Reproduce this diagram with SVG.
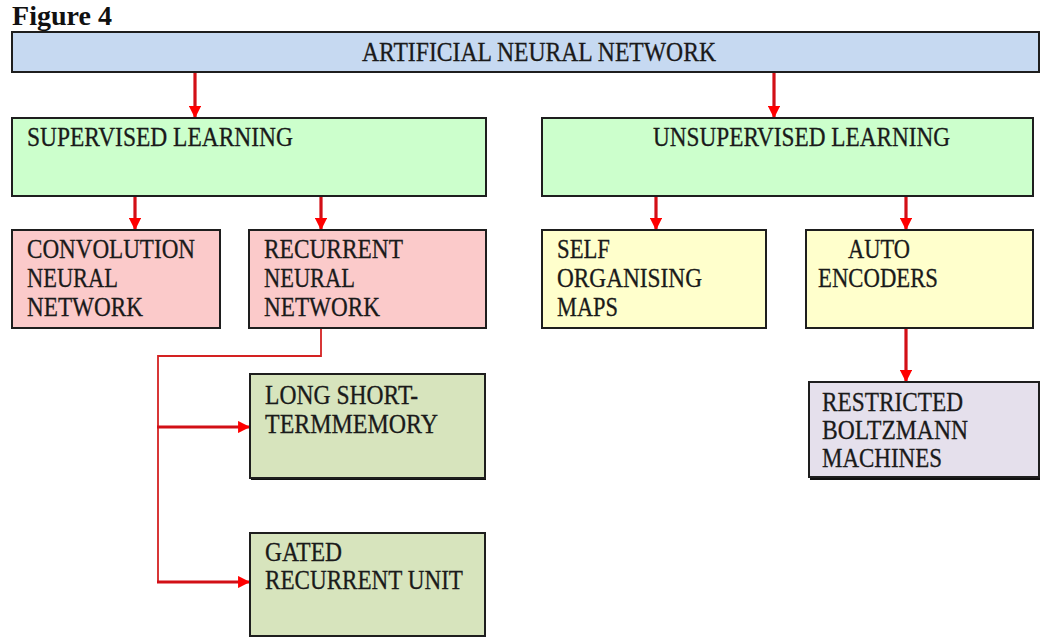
<svg xmlns="http://www.w3.org/2000/svg" width="1049" height="643" viewBox="0 0 1049 643">
  <style>
    .box { stroke: #1e1e1e; stroke-width: 2; }
    .ann { fill: #c6d9f1; }
    .learn { fill: #ccffcc; }
    .sup { fill: #fbcaca; }
    .uns { fill: #ffffcc; }
    .rnn { fill: #d7e4bd; }
    .rbm { fill: #e5e0ec; }
    .lbl { font-family: "Liberation Serif", "Times New Roman", serif; font-size: 27px; fill: #1a1a1a; stroke: #1a1a1a; stroke-width: 0.3; }
    .title { font-family: "Liberation Serif", "Times New Roman", serif; font-size: 27px; font-weight: bold; fill: #111; }
    .shaft { stroke: #d20f16; stroke-width: 3.2; fill: none; }
    .thin { stroke: #d42222; stroke-width: 1.8; fill: none; }
    .shadow { fill: #111; }
  </style>
  <defs>
    <marker id="head" viewBox="0 0 10 10" refX="9" refY="5" markerWidth="3.8" markerHeight="3.8" markerUnits="strokeWidth" orient="auto">
      <path d="M0,0 L10,5 L0,10 Z" fill="#ff0000"/>
    </marker>
  </defs>

  <rect width="1049" height="643" fill="#ffffff"/>

  <text class="title" x="12" y="25" textLength="100" lengthAdjust="spacingAndGlyphs">Figure 4</text>

  <!-- connectors -->
  <g id="connectors">
    <line class="shaft" x1="195" y1="72" x2="195" y2="117" marker-end="url(#head)"/>
    <line class="shaft" x1="774" y1="72" x2="774" y2="117" marker-end="url(#head)"/>
    <line class="shaft" x1="135" y1="196" x2="135" y2="229" marker-end="url(#head)"/>
    <line class="shaft" x1="321" y1="196" x2="321" y2="229" marker-end="url(#head)"/>
    <line class="shaft" x1="656" y1="196" x2="656" y2="229" marker-end="url(#head)"/>
    <line class="shaft" x1="906" y1="196" x2="906" y2="229" marker-end="url(#head)"/>
    <line class="shaft" x1="906" y1="328" x2="906" y2="381" marker-end="url(#head)"/>
    <path class="thin" d="M321,328 V356 H158 V582"/>
    <line class="shaft" x1="157" y1="427" x2="249" y2="427" marker-end="url(#head)"/>
    <line class="shaft" x1="157" y1="582" x2="249" y2="582" marker-end="url(#head)"/>
  </g>

  <g id="ann">
    <rect class="box ann" x="12" y="32" width="1027" height="40"/>
    <text class="lbl" x="362" y="61" textLength="354" lengthAdjust="spacingAndGlyphs">ARTIFICIAL NEURAL NETWORK</text>
  </g>

  <g id="supervised">
    <rect class="box learn" x="12" y="118" width="474" height="78"/>
    <text class="lbl" x="27" y="146" textLength="266" lengthAdjust="spacingAndGlyphs">SUPERVISED LEARNING</text>
  </g>

  <g id="unsupervised">
    <rect class="box learn" x="542" y="118" width="491" height="78"/>
    <text class="lbl" x="653" y="146" textLength="297" lengthAdjust="spacingAndGlyphs">UNSUPERVISED LEARNING</text>
  </g>

  <g id="cnn">
    <rect class="box sup" x="12" y="230" width="208" height="98"/>
    <text class="lbl" x="27" y="258" textLength="168" lengthAdjust="spacingAndGlyphs">CONVOLUTION</text>
    <text class="lbl" x="27" y="287" textLength="91" lengthAdjust="spacingAndGlyphs">NEURAL</text>
    <text class="lbl" x="27" y="316" textLength="116" lengthAdjust="spacingAndGlyphs">NETWORK</text>
  </g>

  <g id="rnn">
    <rect class="box sup" x="249" y="230" width="237" height="98"/>
    <text class="lbl" x="264" y="258" textLength="139" lengthAdjust="spacingAndGlyphs">RECURRENT</text>
    <text class="lbl" x="264" y="287" textLength="91" lengthAdjust="spacingAndGlyphs">NEURAL</text>
    <text class="lbl" x="264" y="316" textLength="116" lengthAdjust="spacingAndGlyphs">NETWORK</text>
  </g>

  <g id="som">
    <rect class="box uns" x="542" y="230" width="224" height="98"/>
    <text class="lbl" x="557" y="258" textLength="53" lengthAdjust="spacingAndGlyphs">SELF</text>
    <text class="lbl" x="557" y="287" textLength="145" lengthAdjust="spacingAndGlyphs">ORGANISING</text>
    <text class="lbl" x="557" y="316" textLength="61" lengthAdjust="spacingAndGlyphs">MAPS</text>
  </g>

  <g id="autoencoders">
    <rect class="box uns" x="806" y="230" width="227" height="98"/>
    <text class="lbl" x="848" y="258" textLength="62" lengthAdjust="spacingAndGlyphs">AUTO</text>
    <text class="lbl" x="818" y="287" textLength="120" lengthAdjust="spacingAndGlyphs">ENCODERS</text>
  </g>

  <g id="lstm">
    <rect class="shadow" x="251" y="476" width="235" height="4"/>
    <rect class="box rnn" x="250" y="374" width="235" height="104"/>
    <text class="lbl" x="265" y="404" textLength="153" lengthAdjust="spacingAndGlyphs">LONG SHORT-</text>
    <text class="lbl" x="265" y="433" textLength="173" lengthAdjust="spacingAndGlyphs">TERMMEMORY</text>
  </g>

  <g id="gru">
    <rect class="box rnn" x="250" y="533" width="235" height="103"/>
    <text class="lbl" x="265" y="561" textLength="77" lengthAdjust="spacingAndGlyphs">GATED</text>
    <text class="lbl" x="265" y="589" textLength="198" lengthAdjust="spacingAndGlyphs">RECURRENT UNIT</text>
  </g>

  <g id="rbm">
    <rect class="shadow" x="810" y="476" width="230" height="4"/>
    <rect class="box rbm" x="809" y="382" width="230" height="95"/>
    <text class="lbl" x="822" y="411" textLength="141" lengthAdjust="spacingAndGlyphs">RESTRICTED</text>
    <text class="lbl" x="822" y="439" textLength="146" lengthAdjust="spacingAndGlyphs">BOLTZMANN</text>
    <text class="lbl" x="822" y="467" textLength="120" lengthAdjust="spacingAndGlyphs">MACHINES</text>
  </g>
</svg>
